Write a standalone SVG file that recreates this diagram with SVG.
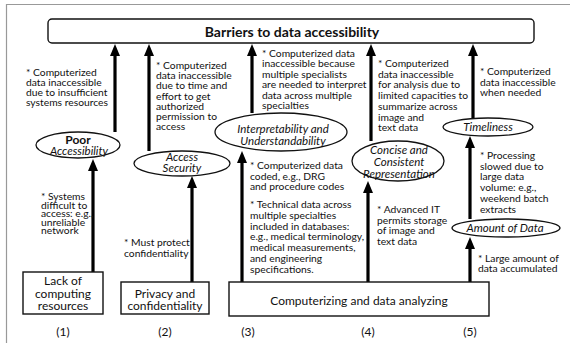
<svg xmlns="http://www.w3.org/2000/svg" width="570" height="343" viewBox="0 0 570 343">
<style>
.t{font-family:Lato,"Liberation Sans",sans-serif;font-size:10.3px;fill:#111}
.b{font-family:Lato,"Liberation Sans",sans-serif;font-size:12px;fill:#111;text-anchor:middle}
.e{font-family:Lato,"Liberation Sans",sans-serif;font-size:11.5px;font-style:italic;fill:#111;text-anchor:middle}
.box{fill:#fff;stroke:#111;stroke-width:1.4}
.ell{fill:#fff;stroke:#111;stroke-width:1.3}
.arr{stroke:#000;stroke-width:3.2;fill:none;marker-end:url(#ah)}
</style>
<defs>
<marker id="ah" viewBox="0 0 12 10" refX="4" refY="5" markerWidth="12" markerHeight="10" markerUnits="userSpaceOnUse" orient="auto">
<path d="M0,0 L12,5 L0,10 z" fill="#000"/>
</marker>
</defs>
<rect width="570" height="343" fill="#fff"/>
<path d="M6.5,343 V4.5 H570" fill="none" stroke="#999" stroke-width="1.2"/>

<g id="title">
<rect class="box" x="48" y="19" width="486" height="24" rx="4"/>
<text x="292" y="37" font-family="Lato,'Liberation Sans',sans-serif" font-size="14" font-weight="bold" text-anchor="middle" fill="#111">Barriers to data accessibility</text>
</g>

<g id="connectors">
<line class="arr" x1="115" y1="132" x2="115" y2="52"/>
<line class="arr" x1="93" y1="272" x2="93" y2="167"/>
<line class="arr" x1="149" y1="151" x2="149" y2="52"/>
<line class="arr" x1="192" y1="282" x2="192" y2="184"/>
<line class="arr" x1="252" y1="113" x2="252" y2="52"/>
<line class="arr" x1="242" y1="282" x2="242" y2="159"/>
<line class="arr" x1="371" y1="141" x2="371" y2="52"/>
<line class="arr" x1="368" y1="282" x2="368" y2="189"/>
<line class="arr" x1="473" y1="118" x2="473" y2="52"/>
<line class="arr" x1="470" y1="219" x2="470" y2="144"/>
<line class="arr" x1="470" y1="282" x2="470" y2="245"/>
</g>

<g id="lack-of-computing-resources">
<rect class="box" x="23" y="272" width="80" height="42"/>
<text class="b" x="63" y="285"><tspan x="63">Lack of</tspan><tspan x="63" dy="12.5">computing</tspan><tspan x="63" dy="12.5">resources</tspan></text>
</g>
<g id="privacy-and-confidentiality">
<rect class="box" x="121" y="282" width="88" height="32"/>
<text class="b" x="165" y="298"><tspan x="165">Privacy and</tspan><tspan x="165" dy="12">confidentiality</tspan></text>
</g>
<g id="computerizing">
<rect class="box" x="229" y="282" width="260" height="34"/>
<text class="b" x="359" y="305" font-size="11.2">Computerizing and data analyzing</text>
</g>

<g id="poor-accessibility">
<ellipse class="ell" cx="78" cy="145" rx="42" ry="13"/>
<text class="b" x="78" y="144" font-weight="bold" font-size="12.5">Poor</text>
<text class="e" x="79" y="155" font-size="11">Accessibility</text>
</g>
<g id="access-security">
<ellipse class="ell" cx="182" cy="163.5" rx="48" ry="12.5"/>
<text class="e" x="182" y="161"><tspan x="182">Access</tspan><tspan x="182" dy="11">Security</tspan></text>
</g>
<g id="interpretability">
<ellipse class="ell" cx="281" cy="132" rx="66" ry="19"/>
<text class="e" x="283" y="133" font-size="12"><tspan x="283">Interpretability and</tspan><tspan x="283" dy="12">Understandability</tspan></text>
</g>
<g id="concise">
<ellipse class="ell" cx="398" cy="161" rx="46" ry="20"/>
<text class="e" x="399" y="154"><tspan x="399">Concise and</tspan><tspan x="399" dy="12">Consistent</tspan><tspan x="399" dy="12">Representation</tspan></text>
</g>
<g id="timeliness">
<ellipse class="ell" cx="488" cy="127" rx="45" ry="9"/>
<text class="e" x="488" y="131">Timeliness</text>
</g>
<g id="amount-of-data">
<ellipse class="ell" cx="506" cy="228" rx="54" ry="9"/>
<text class="e" x="505" y="232">Amount of Data</text>
</g>

<g id="labels">
<text class="t" y="76"><tspan x="26">* Computerized</tspan><tspan x="26" dy="10">data inaccessible</tspan><tspan x="26" dy="10">due to insufficient</tspan><tspan x="26" dy="10">systems resources</tspan></text>

<text class="t" y="200" font-size="9.6"><tspan x="41">* Systems</tspan><tspan x="41" dy="8.5">difficult to</tspan><tspan x="41" dy="8.5">access: e.g.,</tspan><tspan x="41" dy="8.5">unreliable</tspan><tspan x="41" dy="8.5">network</tspan></text>

<text class="t" y="69"><tspan x="156">* Computerized</tspan><tspan x="156" dy="10.2">data inaccessible</tspan><tspan x="156" dy="10.2">due to time and</tspan><tspan x="156" dy="10.2">effort to get</tspan><tspan x="156" dy="10.2">authorized</tspan><tspan x="156" dy="10.2">permission to</tspan><tspan x="156" dy="10.2">access</tspan></text>

<text class="t" y="246" font-size="9.8"><tspan x="124">* Must protect</tspan><tspan x="124" dy="10.5">confidentiality</tspan></text>

<text class="t" y="57"><tspan x="262">* Computerized data</tspan><tspan x="262" dy="10.4">inaccessible because</tspan><tspan x="262" dy="10.4">multiple specialists</tspan><tspan x="262" dy="10.4">are needed to interpret</tspan><tspan x="262" dy="10.4">data across multiple</tspan><tspan x="262" dy="10.4">specialties</tspan></text>

<text class="t" y="169"><tspan x="250">* Computerized data</tspan><tspan x="250" dy="10.5">coded, e.g., DRG</tspan><tspan x="250" dy="10.5">and procedure codes</tspan></text>
<text class="t" y="208"><tspan x="250">* Technical data across</tspan><tspan x="250" dy="10.8">multiple specialties</tspan><tspan x="250" dy="10.8">included in databases:</tspan><tspan x="250" dy="10.8">e.g., medical terminology,</tspan><tspan x="250" dy="10.8">medical measurements,</tspan><tspan x="250" dy="10.8">and engineering</tspan><tspan x="250" dy="10.8">specifications.</tspan></text>

<text class="t" y="67"><tspan x="378">* Computerized</tspan><tspan x="378" dy="10.7">data inaccessible</tspan><tspan x="378" dy="10.7">for analysis due to</tspan><tspan x="378" dy="10.7">limited capacities to</tspan><tspan x="378" dy="10.7">summarize across</tspan><tspan x="378" dy="10.7">image and</tspan><tspan x="378" dy="10.7">text data</tspan></text>

<text class="t" y="213"><tspan x="377">* Advanced IT</tspan><tspan x="377" dy="10.5">permits storage</tspan><tspan x="377" dy="10.5">of image and</tspan><tspan x="377" dy="10.5">text data</tspan></text>

<text class="t" y="75"><tspan x="480">* Computerized</tspan><tspan x="480" dy="10.5">data inaccessible</tspan><tspan x="480" dy="10.5">when needed</tspan></text>

<text class="t" y="159"><tspan x="480">* Processing</tspan><tspan x="480" dy="10.7">slowed due to</tspan><tspan x="480" dy="10.7">large data</tspan><tspan x="480" dy="10.7">volume: e.g.,</tspan><tspan x="480" dy="10.7">weekend batch</tspan><tspan x="480" dy="10.7">extracts</tspan></text>

<text class="t" y="262"><tspan x="478">* Large amount of</tspan><tspan x="478" dy="10">data accumulated</tspan></text>
</g>

<g id="numbers">
<text class="b" x="63" y="336">(1)</text>
<text class="b" x="165" y="336">(2)</text>
<text class="b" x="248" y="336">(3)</text>
<text class="b" x="368" y="336">(4)</text>
<text class="b" x="470" y="336">(5)</text>
</g>
</svg>
